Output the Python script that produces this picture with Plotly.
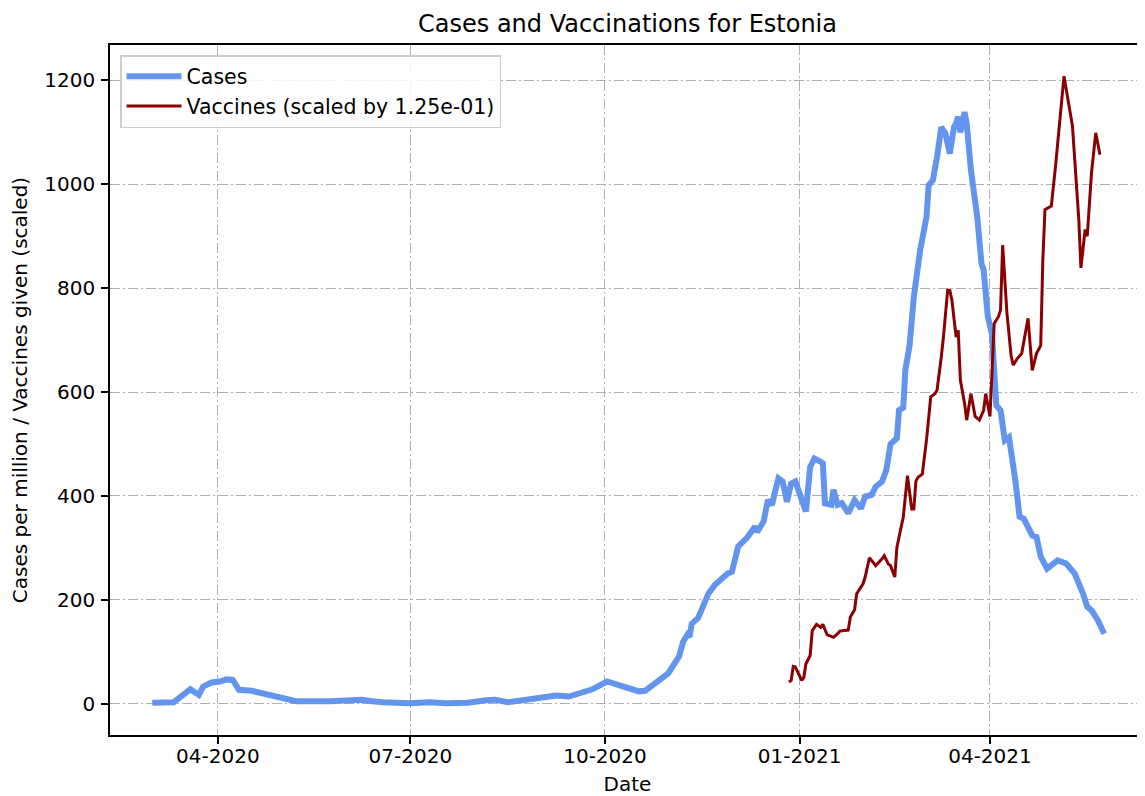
import plotly.graph_objects as go

# ---------------- data ----------------
cases_dates = [
    "2020-03-01", "2020-03-11", "2020-03-19", "2020-03-23", "2020-03-25", "2020-03-29",
    "2020-04-02", "2020-04-05", "2020-04-08", "2020-04-11", "2020-04-17", "2020-04-20",
    "2020-04-27", "2020-05-03", "2020-05-08", "2020-05-24", "2020-06-05", "2020-06-08",
    "2020-06-13", "2020-06-18", "2020-07-01", "2020-07-10", "2020-07-18", "2020-07-28",
    "2020-08-06", "2020-08-10", "2020-08-16", "2020-08-18", "2020-08-23", "2020-09-02",
    "2020-09-08", "2020-09-14", "2020-09-20", "2020-09-25", "2020-10-02", "2020-10-08",
    "2020-10-13", "2020-10-17", "2020-10-20", "2020-10-24", "2020-10-27", "2020-10-31",
    "2020-11-02", "2020-11-05", "2020-11-07", "2020-11-09", "2020-11-10", "2020-11-11",
    "2020-11-14", "2020-11-16", "2020-11-19", "2020-11-22", "2020-11-25", "2020-11-28",
    "2020-11-30", "2020-12-01", "2020-12-03", "2020-12-07", "2020-12-10", "2020-12-11",
    "2020-12-12", "2020-12-15", "2020-12-17", "2020-12-19", "2020-12-20", "2020-12-22",
    "2020-12-24", "2020-12-26", "2020-12-28", "2020-12-30", "2021-01-01", "2021-01-04",
    "2021-01-06", "2021-01-08", "2021-01-11", "2021-01-12", "2021-01-13", "2021-01-16",
    "2021-01-17", "2021-01-19", "2021-01-21", "2021-01-24", "2021-01-27", "2021-01-30",
    "2021-02-01", "2021-02-04", "2021-02-06", "2021-02-09", "2021-02-11", "2021-02-13",
    "2021-02-16", "2021-02-17", "2021-02-19", "2021-02-20", "2021-02-22", "2021-02-24",
    "2021-02-27", "2021-03-02", "2021-03-03", "2021-03-05", "2021-03-07", "2021-03-09",
    "2021-03-11", "2021-03-13", "2021-03-15", "2021-03-16", "2021-03-17", "2021-03-18",
    "2021-03-20", "2021-03-21", "2021-03-23", "2021-03-26", "2021-03-28", "2021-03-29",
    "2021-03-31", "2021-04-02", "2021-04-04", "2021-04-06", "2021-04-08", "2021-04-10",
    "2021-04-13", "2021-04-15", "2021-04-17", "2021-04-21", "2021-04-23", "2021-04-25",
    "2021-04-28", "2021-05-03", "2021-05-07", "2021-05-11", "2021-05-15", "2021-05-17",
    "2021-05-19", "2021-05-22", "2021-05-25",
]
cases_per_million = [
    2, 3, 28, 17, 33, 41, 43, 47, 46, 27,
    25, 22, 14, 8, 5, 5, 8, 8, 5, 3,
    1, 3, 1, 2, 7, 8, 3, 4, 8, 11,
    16, 14, 21, 28, 43, 36, 30, 24, 25, 37,
    46, 59, 72, 91, 120, 133, 129, 154, 165, 184,
    213, 229, 242, 251, 254, 271, 303, 319, 335, 341,
    331, 351, 392, 383, 402, 434, 428, 389, 424, 428,
    405, 370, 456, 472, 466, 463, 386, 383, 412, 383,
    386, 367, 392, 376, 399, 402, 418, 428, 450, 500,
    511, 565, 570, 642, 690, 783, 873, 937, 998, 1008,
    1053, 1110, 1097, 1059, 1110, 1117, 1130, 1100, 1139, 1117,
    1027, 937, 847, 835, 745, 710, 574, 565, 507, 513,
    430, 360, 356, 324, 321, 283, 260, 276, 270, 251,
    212, 187, 180, 161, 135,
]

vaccine_dates = [
    "2020-12-27", "2020-12-28", "2020-12-29", "2020-12-30", "2021-01-02", "2021-01-03",
    "2021-01-04", "2021-01-06", "2021-01-07", "2021-01-09", "2021-01-11", "2021-01-12",
    "2021-01-14", "2021-01-17", "2021-01-19", "2021-01-20", "2021-01-24", "2021-01-25",
    "2021-01-27", "2021-01-28", "2021-01-31", "2021-02-01", "2021-02-03", "2021-02-06",
    "2021-02-09", "2021-02-10", "2021-02-12", "2021-02-13", "2021-02-15", "2021-02-16",
    "2021-02-18", "2021-02-19", "2021-02-21", "2021-02-23", "2021-02-24", "2021-02-25",
    "2021-02-26", "2021-02-28", "2021-03-02", "2021-03-03", "2021-03-04", "2021-03-06",
    "2021-03-07", "2021-03-09", "2021-03-10", "2021-03-12", "2021-03-13", "2021-03-14",
    "2021-03-16", "2021-03-17", "2021-03-18", "2021-03-20", "2021-03-21", "2021-03-23",
    "2021-03-25", "2021-03-27", "2021-03-29", "2021-03-30", "2021-04-01", "2021-04-03",
    "2021-04-05", "2021-04-06", "2021-04-07", "2021-04-09", "2021-04-11", "2021-04-12",
    "2021-04-14", "2021-04-16", "2021-04-19", "2021-04-21", "2021-04-23", "2021-04-25",
    "2021-04-26", "2021-04-27", "2021-04-30", "2021-05-02", "2021-05-04", "2021-05-06",
    "2021-05-10", "2021-05-13", "2021-05-14", "2021-05-16", "2021-05-17", "2021-05-19",
    "2021-05-21", "2021-05-23",
]
vaccines_scaled = [
    42, 45, 72, 71, 45, 51, 77, 93, 141, 153,
    147, 153, 133, 128, 135, 140, 142, 167, 181, 212,
    231, 244, 281, 266, 279, 285, 269, 266, 244, 301,
    340, 359, 439, 375, 375, 429, 436, 442, 508, 548,
    591, 597, 604, 668, 706, 796, 796, 777, 706, 719,
    623, 578, 546, 597, 553, 546, 565, 597, 553, 732,
    745, 758, 883, 753, 670, 652, 665, 674, 742, 642,
    674, 690, 855, 951, 958, 1035, 1124, 1208, 1112, 932,
    839, 913, 900, 1022, 1099, 1057,
]
vaccine_scale = 1.25e-01

y_ticks = [0, 200, 400, 600, 800, 1000, 1200]

assert len(cases_dates) == len(cases_per_million)
assert len(vaccine_dates) == len(vaccines_scaled)

# ---------------- figure ----------------
# The page has an 8px body margin, so the figure is sized to the window minus it.
W, H = 1137, 788
FONT = "DejaVu Sans"
GRID = dict(showgrid=True, gridcolor="#b0b0b0", gridwidth=1.2, griddash="10px,3px,2px,3px")

fig = go.Figure()
fig.add_trace(go.Scatter(
    x=cases_dates, y=cases_per_million, mode="lines", name="Cases",
    line=dict(color="#6495ED", width=6),
))
fig.add_trace(go.Scatter(
    x=vaccine_dates, y=vaccines_scaled, mode="lines",
    name=f"Vaccines (scaled by {vaccine_scale:.2e})",
    line=dict(color="#8B0000", width=3),
))

fig.update_layout(
    width=W, height=H,
    margin=dict(l=102, r=0, t=37, b=61, autoexpand=False),
    paper_bgcolor="white", plot_bgcolor="white",
    font=dict(family=FONT, size=20, color="#000000"),
    title=dict(text="Cases and Vaccinations for Estonia", x=0.5, xref="paper",
               y=1 - 16 / H, yanchor="middle", xanchor="center",
               font=dict(family=FONT, size=24, color="#000000")),
    showlegend=True,
    legend=dict(x=0.0097, y=0.9855, xanchor="left", yanchor="top",
                bgcolor="rgba(255,255,255,0.85)", bordercolor="#cccccc", borderwidth=1.5,
                font=dict(family=FONT, size=20.5, color="#000000"), itemwidth=55),
)

fig.update_xaxes(
    type="date", range=["2020-02-10", "2021-06-13 07:00"],
    tickformat="%m-%Y", dtick="M3", tick0="2020-01-01",
    ticks="outside", ticklen=7, tickwidth=1.6, tickcolor="#000000",
    ticklabelstandoff=-5,
    showline=True, linecolor="#000000", linewidth=1.6, mirror=True,
    zeroline=False, automargin=False,
    title=dict(text="Date", font=dict(family=FONT, size=20), standoff=18),
    **GRID,
)
fig.update_yaxes(
    range=[-60, 1268], tickvals=y_ticks,
    ticks="outside", ticklen=7, tickwidth=1.6, tickcolor="#000000",
    ticklabelstandoff=2,
    showline=True, linecolor="#000000", linewidth=1.6, mirror=False,
    zeroline=False, automargin=False,
    title=dict(text="Cases per million / Vaccines given (scaled)",
               font=dict(family=FONT, size=20), standoff=15),
    **GRID,
)

fig.write_html("out.html")
